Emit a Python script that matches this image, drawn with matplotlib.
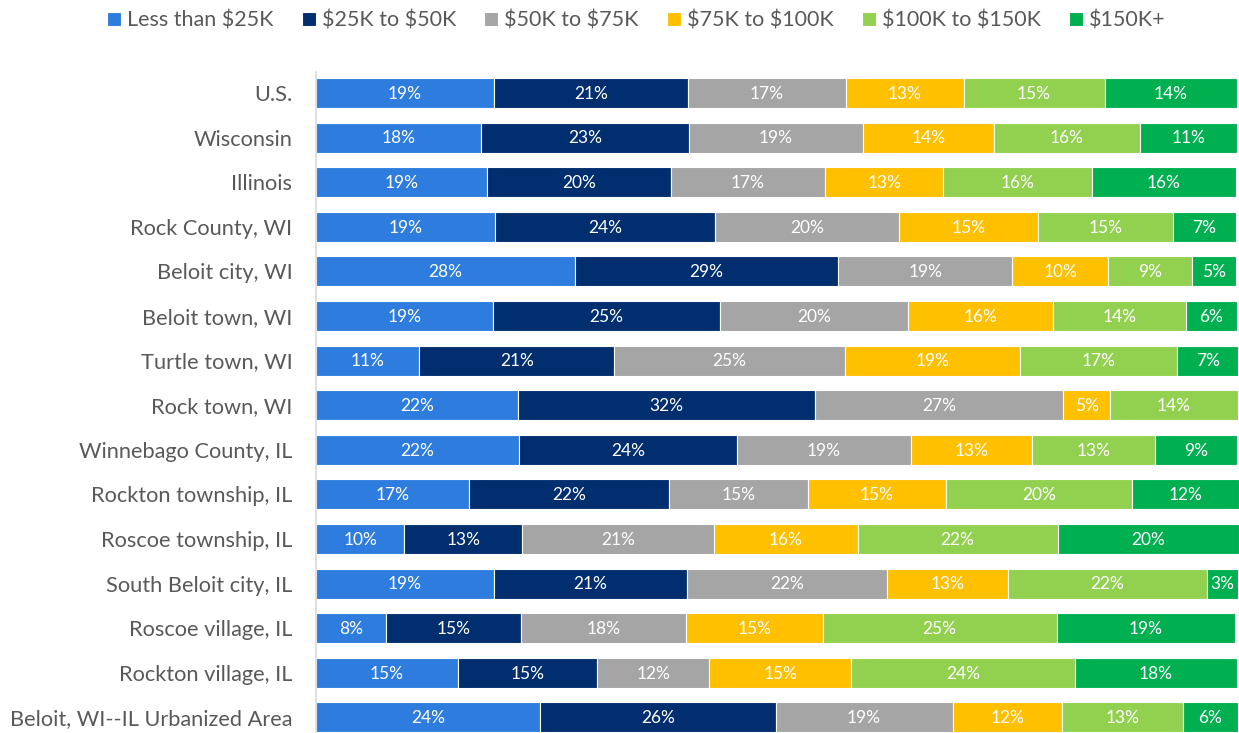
import matplotlib
matplotlib.use("Agg")
import matplotlib.pyplot as plt
import numpy as np

plt.rcParams['font.family'] = ['Lato', 'DejaVu Sans']
plt.rcParams['text.parse_math'] = False

places = ["U.S.", "Wisconsin", "Illinois", "Rock County, WI", "Beloit city, WI",
          "Beloit town, WI", "Turtle town, WI", "Rock town, WI", "Winnebago County, IL",
          "Rockton township, IL", "Roscoe township, IL", "South Beloit city, IL",
          "Roscoe village, IL", "Rockton village, IL", "Beloit, WI--IL Urbanized Area"]

series_names = ["Less than $25K", "$25K to $50K", "$50K to $75K",
                "$75K to $100K", "$100K to $150K", "$150K+"]

lt25 =    [19.3, 17.9, 18.6, 19.4, 28.1, 19.2, 11.2, 21.9, 22.0, 16.6, 9.6, 19.3, 7.6, 15.4, 24.3]
k25_50 =  [21.1, 22.6, 19.9, 23.9, 28.6, 24.7, 21.2, 32.3, 23.7, 21.7, 12.8, 21.0, 14.7, 15.1, 25.6]
k50_75 =  [17.1, 18.9, 16.8, 20.0, 18.9, 20.4, 25.0, 26.9, 18.9, 15.1, 20.8, 21.7, 17.9, 12.2, 19.2]
k75_100 = [12.8, 14.2, 12.8, 15.1, 10.4, 15.7, 19.0, 5.1, 13.1, 15.0, 15.6, 13.1, 14.8, 15.4, 11.9]
k100_150 =[15.3, 15.8, 16.1, 14.6, 9.1, 14.4, 17.1, 13.9, 13.4, 20.2, 21.7, 21.6, 25.4, 24.3, 13.1]
k150p =   [14.4, 10.6, 15.7, 6.9, 4.8, 5.6, 6.6, 0.0, 8.9, 11.6, 19.7, 3.4, 19.4, 17.6, 6.0]

colors = ["#2E7DDE", "#002E6E", "#A5A5A5", "#FFC000", "#92D050", "#00B050"]

series = [lt25, k25_50, k50_75, k75_100, k100_150, k150p]

fig = plt.figure(figsize=(12.39, 7.33), dpi=100)
ax = fig.add_axes([316/1239, 0.0, 1 - 316/1239, (733-72)/733])

y = np.arange(len(places))
left = np.zeros(len(places))
handles = []
for vals, name, col in zip(series, series_names, colors):
    v = np.array(vals)
    h = ax.barh(y, v, left=left, height=0.67, color=col, edgecolor='white',
                linewidth=0.8, label=name)
    handles.append(h)
    for yi, (l, w) in enumerate(zip(left, v)):
        if w > 0:
            ax.text(l + w / 2, yi + 0.02, f"{w:.0f}%", ha='center', va='center',
                    color='white', fontsize=12.5)
    left += v

totals = left
ax.set_xlim(0, max(totals))
ax.set_ylim(14.35, -0.47)
ax.set_yticks(y)
ax.set_yticklabels(places, fontsize=15.7, color='#595959')
ax.tick_params(axis='y', length=0, pad=17)
ax.set_xticks([])
for s in ['top', 'right', 'bottom']:
    ax.spines[s].set_visible(False)
ax.spines['left'].set_color('#D9D9D9')
ax.spines['left'].set_linewidth(1.2)

fig.legend(handles=handles, labels=series_names, loc='upper left',
           bbox_to_anchor=(88/1239, 1.012), ncol=6, frameon=False, fontsize=15.5,
           handlelength=0.65, handleheight=0.65, handletextpad=0.28, columnspacing=1.3,
           labelcolor='#595959')

fig.savefig("out.png", dpi=100)
